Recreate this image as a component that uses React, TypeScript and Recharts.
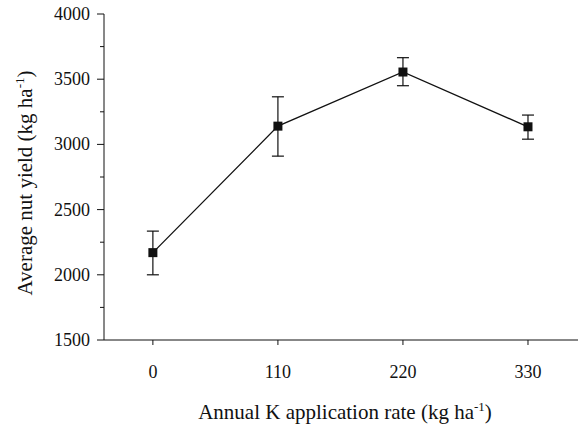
import { ErrorBar, Line, LineChart, XAxis, YAxis } from "recharts";

// K application rate (kg/ha) vs mean nut yield, with error bar limits
const rates = [0, 110, 220, 330];
const yieldMean = [2170, 3140, 3555, 3135];
const yieldLow = [2000, 2910, 3450, 3040];
const yieldHigh = [2335, 3365, 3665, 3225];

const yTicks = [1500, 1750, 2000, 2250, 2500, 2750, 3000, 3250, 3500, 3750, 4000];
const xTicks = [0, 110, 220, 330];

const data = rates.map((rate, i) => ({
  rate,
  yield: yieldMean[i],
  err: [yieldMean[i] - yieldLow[i], yieldHigh[i] - yieldMean[i]],
}));

const FONT = '"Liberation Serif", "Times New Roman", serif';
const INK = "#111";

function YTick({ x, y, payload }: any) {
  const major = payload.value % 500 === 0;
  return (
    <g>
      <line x1={x - (major ? 7 : 4)} x2={x} y1={y} y2={y} stroke={INK} strokeWidth={1} />
      {major && (
        <text x={x - 14} y={y + 6} textAnchor="end" fontFamily={FONT} fontSize={18} fill={INK}>
          {payload.value}
        </text>
      )}
    </g>
  );
}

function XTick({ x, y, payload }: any) {
  return (
    <text x={x} y={y + 31} textAnchor="middle" fontFamily={FONT} fontSize={18} fill={INK}>
      {payload.value}
    </text>
  );
}

function SquareDot({ cx, cy, index }: any) {
  return <rect key={index} x={cx - 4.5} y={cy - 4.5} width={9} height={9} fill={INK} />;
}

export default function App() {
  return (
    <div style={{ position: "absolute", left: 0, top: 0 }}>
      <LineChart width={578} height={425} data={data} margin={{ top: 14, right: 0, bottom: 0, left: 0 }}>
        <XAxis
          dataKey="rate"
          type="number"
          domain={[-43, 374]}
          ticks={xTicks}
          tick={<XTick />}
          tickSize={5}
          tickLine={{ stroke: INK }}
          axisLine={{ stroke: INK }}
          height={85}
          label={{
            content: () => (
              <text x={345} y={419} textAnchor="middle" fontFamily={FONT} fontSize={21} fill={INK}>
                Annual K application rate (kg ha
                <tspan dy={-8} fontSize={13}>-1</tspan>
                <tspan dy={8}>)</tspan>
              </text>
            ),
          }}
        />
        <YAxis
          type="number"
          domain={[1500, 4000]}
          ticks={yTicks}
          interval={0}
          tick={<YTick />}
          tickLine={false}
          tickSize={0}
          tickMargin={0}
          axisLine={{ stroke: INK }}
          width={104}
          label={{
            content: () => (
              <text
                x={0}
                y={0}
                transform="translate(32 183) rotate(-90)"
                textAnchor="middle"
                fontFamily={FONT}
                fontSize={21}
                fill={INK}
              >
                Average nut yield (kg ha
                <tspan dy={-8} fontSize={13}>-1</tspan>
                <tspan dy={8}>)</tspan>
              </text>
            ),
          }}
        />
        <Line
          type="linear"
          dataKey="yield"
          stroke={INK}
          strokeWidth={1.3}
          dot={<SquareDot />}
          activeDot={false}
          isAnimationActive={false}
        >
          <ErrorBar dataKey="err" direction="y" width={6} stroke={INK} strokeWidth={1.2} />
        </Line>
      </LineChart>
    </div>
  );
}
